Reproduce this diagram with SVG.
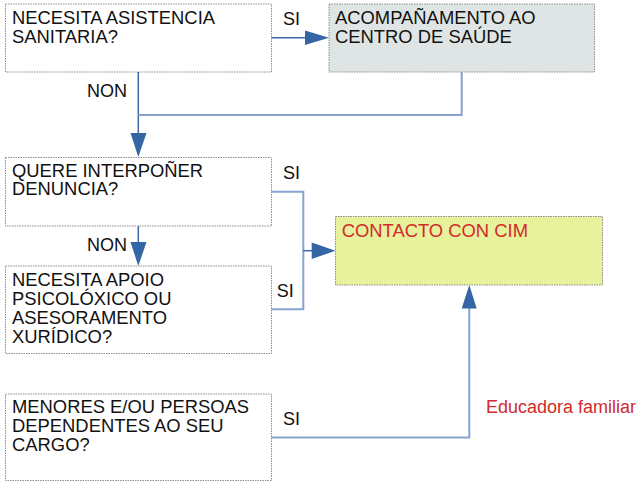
<svg xmlns="http://www.w3.org/2000/svg" width="640" height="482" viewBox="0 0 640 482">
<defs>
<style>
.box{fill:#ffffff;stroke:#8c8c8c;stroke-width:1;stroke-dasharray:1.5 1}
.t{font-family:"Liberation Sans",Arial,sans-serif;font-size:18.4px;fill:#111111}
.lbl{font-family:"Liberation Sans",Arial,sans-serif;font-size:18px;fill:#111111}
.red{font-family:"Liberation Sans",Arial,sans-serif;font-size:18px;fill:#d12b2b}
.c{fill:none;stroke:#3e69a8;stroke-width:1.5}
.cl{fill:none;stroke:#86a4cf;stroke-width:2}
.ah{fill:#3465a4}
</style>
</defs>
<rect width="640" height="482" fill="#ffffff"/>
<g id="connectors">
<line class="c" x1="271" y1="37.7" x2="306" y2="37.7"/>
<polygon class="ah" points="305,30.5 329,37.7 305,45"/>
<line class="c" x1="138.3" y1="72" x2="138.3" y2="134"/>
<polyline class="cl" points="461.7,72 461.7,115 138.3,115"/>
<polygon class="ah" points="130.5,133 146.5,133 138.3,157"/>
<line class="c" x1="138.3" y1="226" x2="138.3" y2="243"/>
<polygon class="ah" points="130.5,242 146.5,242 138.3,266"/>
<polyline class="cl" points="271,191.7 303.3,191.7 303.3,309.3 271,309.3"/>
<line class="c" x1="303.3" y1="250.7" x2="313" y2="250.7"/>
<polygon class="ah" points="311.7,242.5 335.5,250.7 311.7,259"/>
<polyline class="cl" points="271,437.5 469.3,437.5 469.3,308"/>
<polygon class="ah" points="461.7,308.5 476.7,308.5 469.3,285"/>
</g>
<g id="n1">
<rect class="box" x="5.5" y="4" width="266" height="68"/>
<text class="t" x="12" y="24.3">NECESITA ASISTENCIA</text>
<text class="t" x="12" y="42.7">SANITARIA?</text>
</g>
<g id="n2">
<rect x="329" y="4" width="265.5" height="68" fill="#dfe5e4" stroke="#8c8c8c" stroke-width="1" stroke-dasharray="1.5 1"/>
<text class="t" x="335" y="24.3">ACOMPAÑAMENTO AO</text>
<text class="t" x="335" y="42.7">CENTRO DE SAÚDE</text>
</g>
<g id="n3">
<rect class="box" x="5.5" y="157.5" width="266" height="68.5"/>
<text class="t" x="12" y="176.7">QUERE INTERPOÑER</text>
<text class="t" x="12" y="195">DENUNCIA?</text>
</g>
<g id="n4">
<rect class="box" x="5.5" y="266" width="266" height="87.5"/>
<text class="t" x="12" y="286">NECESITA APOIO</text>
<text class="t" x="12" y="305">PSICOLÓXICO OU</text>
<text class="t" x="12" y="324">ASESORAMENTO</text>
<text class="t" x="12" y="342.7">XURÍDICO?</text>
</g>
<g id="n5">
<rect x="335.5" y="216.5" width="267" height="68.5" fill="#e8f19b" stroke="#8c8c8c" stroke-width="1" stroke-dasharray="1.5 1"/>
<text class="red" x="341.7" y="236.7" style="font-size:18.4px">CONTACTO CON CIM</text>
</g>
<g id="n6">
<rect class="box" x="5.5" y="394" width="266" height="86.5"/>
<text class="t" x="12" y="413.3">MENORES E/OU PERSOAS</text>
<text class="t" x="12" y="432">DEPENDENTES AO SEU</text>
<text class="t" x="12" y="451">CARGO?</text>
</g>
<g id="labels">
<text class="lbl" x="283" y="25">SI</text>
<text class="lbl" x="87" y="96.7">NON</text>
<text class="lbl" x="283" y="179.3">SI</text>
<text class="lbl" x="87" y="251">NON</text>
<text class="lbl" x="276.7" y="296.7">SI</text>
<text class="lbl" x="283" y="425">SI</text>
<text class="red" x="486" y="413.3">Educadora familiar</text>
</g>
</svg>
